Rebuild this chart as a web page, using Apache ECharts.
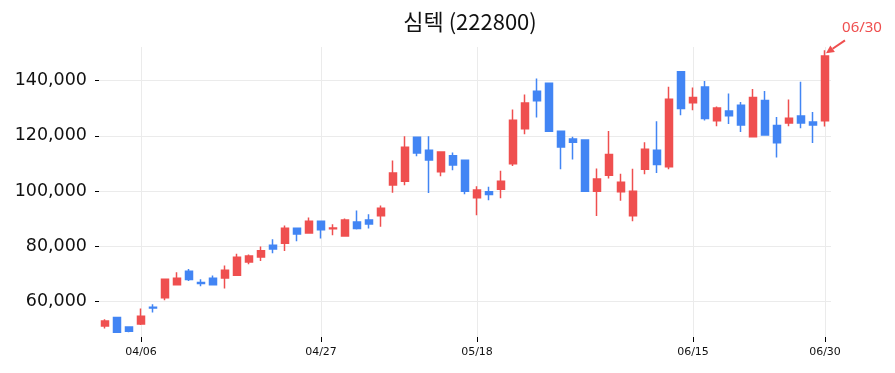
<!DOCTYPE html>
<html>
<head>
<meta charset="utf-8">
<script src="https://cdn.jsdelivr.net/npm/echarts@6/dist/echarts.min.js"></script>
<style>
  html, body { margin: 0; padding: 0; background: #fff; }
  #chart { width: 895px; height: 373px; }
</style>
</head>
<body>
<div id="chart"></div>
<script>
// trading days, Apr 1 - Jun 30
const dates = [
  '04/01','04/02','04/03','04/06','04/07','04/08','04/09','04/10','04/13','04/14',
  '04/15','04/16','04/17','04/20','04/21','04/22','04/23','04/24','04/27','04/28',
  '04/29','04/30','05/04','05/06','05/07','05/08','05/11','05/12','05/13','05/14',
  '05/15','05/18','05/19','05/20','05/21','05/22','05/26','05/27','05/28','05/29',
  '06/01','06/02','06/04','06/05','06/08','06/09','06/10','06/11','06/12','06/15',
  '06/16','06/17','06/18','06/19','06/22','06/23','06/24','06/25','06/26','06/29',
  '06/30'
];
const opens = [
  51200, 54300, 50800, 51900, 58000, 61400, 66100, 71000, 66900, 68500,
  68600, 69600, 74400, 76200, 80400, 81100, 86600, 84900, 89100, 86400,
  83800, 88800, 89600, 91100, 102200, 103600, 119500, 114800, 107000, 112800,
  111200, 97600, 99800, 100700, 109900, 122600, 136200, 139100, 121700, 118900,
  118500, 100000, 105800, 99800, 91100, 107900, 114800, 108800, 143200, 132000,
  137700, 125500, 129000, 131100, 119700, 132800, 123800, 124700, 127200, 125000,
  125500
];
const closes = [
  53000, 48900, 49300, 54700, 57700, 68100, 68500, 68000, 66600, 66100,
  71400, 76100, 76500, 78400, 79100, 86600, 84500, 89100, 86000, 86700,
  89600, 86500, 88100, 93800, 106600, 115900, 113800, 111300, 114200, 109500,
  100000, 100400, 98800, 103600, 125700, 131900, 132700, 121700, 116000, 117700,
  100000, 104400, 113300, 103200, 100000, 115200, 109700, 133300, 129900, 133900,
  126300, 130100, 127300, 124000, 133900, 120300, 117500, 126400, 124700, 124000,
  148900
];
const lows = [
  50300, 48800, 48900, 51500, 56100, 60500, 65900, 67500, 65600, 65900,
  64800, 69400, 73500, 74700, 77500, 78300, 81900, 84700, 82900, 84000,
  83600, 86100, 86500, 87100, 99400, 102100, 112600, 99300, 105400, 107600,
  98900, 91300, 96700, 97400, 109100, 120600, 126700, 121500, 107900, 111500,
  99800, 91000, 104600, 96500, 89100, 106100, 106600, 107900, 127500, 129300,
  125600, 123500, 124300, 121400, 119500, 120100, 112200, 123500, 122800, 117400,
  123400
];
const highs = [
  53600, 54400, 51000, 57500, 59100, 68200, 70600, 71800, 68100, 69500,
  73100, 77300, 77100, 80000, 82600, 87600, 86700, 90500, 89200, 88000,
  90100, 93000, 91600, 94800, 111100, 119900, 119700, 119900, 114400, 114000,
  111300, 101800, 101600, 107400, 129600, 135000, 140800, 139200, 121800, 119700,
  118700, 108200, 121800, 106300, 108100, 117700, 125300, 137800, 143300, 137500,
  139900, 130700, 135400, 132300, 137000, 136300, 126900, 133200, 139600, 128700,
  151000
];
const labelDates = ['04/06', '04/27', '05/18', '06/15', '06/30'];
const yTicks = [60000, 80000, 100000, 120000, 140000];

const UP = '#ef4f4f';
const DOWN = '#4285f4';

const candles = dates.map((d, i) => [opens[i], closes[i], lows[i], highs[i]]);
const showDate = (idx, val) => labelDates.indexOf(val) >= 0;

const myChart = echarts.init(document.getElementById('chart'));
myChart.setOption({
  animation: false,
  title: {
    text: '심텍 (222800)',
    left: 465,
    textAlign: 'center',
    top: 6,
    textStyle: {
      fontFamily: 'Noto Sans CJK KR',
      fontSize: 22,
      fontWeight: 'normal',
      color: '#111'
    }
  },
  grid: {left: 99, right: 64, top: 47, bottom: 36},
  xAxis: {
    type: 'category',
    data: dates,
    boundaryGap: true,
    axisLine: {show: false},
    axisTick: {
      show: true,
      alignWithLabel: true,
      interval: showDate,
      length: 5,
      lineStyle: {color: '#000'}
    },
    axisLabel: {
      interval: showDate,
      margin: 10,
      fontFamily: 'DejaVu Sans',
      fontSize: 11,
      color: '#111'
    },
    splitLine: {
      show: true,
      alignWithLabel: true,
      interval: showDate,
      lineStyle: {color: '#ebebeb', width: 1}
    }
  },
  yAxis: {
    type: 'value',
    min: 47200,
    max: 152200,
    axisLine: {show: false},
    axisTick: {
      show: true,
      customValues: yTicks,
      length: 4,
      lineStyle: {color: '#000'}
    },
    axisLabel: {
      customValues: yTicks,
      margin: 12,
      fontFamily: 'DejaVu Sans',
      fontSize: 17.5,
      color: '#111',
      formatter: v => v.toLocaleString('en-US')
    },
    splitLine: {
      show: true,
      lineStyle: {color: '#ebebeb', width: 1}
    }
  },
  series: [{
    type: 'candlestick',
    data: candles,
    barWidth: 8,
    itemStyle: {
      color: UP,
      color0: DOWN,
      borderColor: UP,
      borderColor0: DOWN,
      borderWidth: 1.5
    }
  }]
});

// arrow + date note pointing at the last candle's high
const last = dates.length - 1;
const tip = myChart.convertToPixel({seriesIndex: 0}, [last, highs[last]]);
const tx = tip[0] + 1, ty = tip[1] + 3;
const tail = [tx + 19, ty - 13];
const ang = Math.atan2(ty - tail[1], tx - tail[0]);
const hl = 8, hw = 4;
const bx = tx - hl * Math.cos(ang), by = ty - hl * Math.sin(ang);
myChart.setOption({
  graphic: [
    {
      type: 'line',
      shape: {x1: tail[0], y1: tail[1], x2: bx, y2: by},
      style: {stroke: UP, lineWidth: 2}
    },
    {
      type: 'polygon',
      shape: {points: [
        [tx, ty],
        [bx + hw * Math.sin(ang), by - hw * Math.cos(ang)],
        [bx - hw * Math.sin(ang), by + hw * Math.cos(ang)]
      ]},
      style: {fill: UP}
    },
    {
      type: 'text',
      x: tx + 36,
      y: ty - 26,
      style: {
        text: dates[last],
        align: 'center',
        verticalAlign: 'middle',
        fill: UP,
        font: '15px "Noto Sans"'
      }
    }
  ]
});
</script>
</body>
</html>
